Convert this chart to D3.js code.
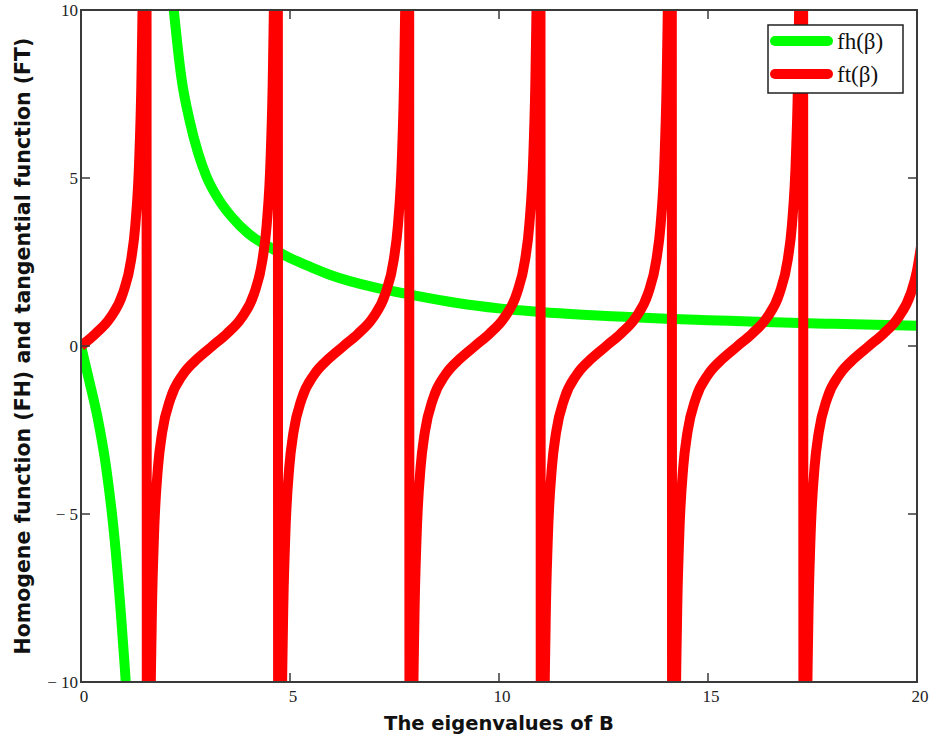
<!DOCTYPE html>
<html lang="en">
<head>
  <meta charset="UTF-8">
  <title>fh and ft</title>
  <style>
    * { box-sizing: border-box; }
    body { margin: 0; background: #fff; }
    svg { display: block; }
    .tick-label { font-family: "Liberation Serif", "DejaVu Serif", serif; font-size: 17px; fill: #222; }
    .axis-title { font-family: "DejaVu Sans", Verdana, sans-serif; font-weight: bold; fill: #111; }
    .legend-text { font-family: "Liberation Serif", serif; font-size: 23px; fill: #111; }
  </style>
</head>
<body>
<svg id="chart" width="933" height="744"></svg>

<script src="https://d3js.org/d3.v7.min.js"></script>
<script>
// homogene function fh(beta), two branches
var fhNegBeta  = [0, 0.2, 0.4, 0.6, 0.8, 0.95, 1.05, 1.12];
var fhNegValue = [0, -1.05, -2.15, -3.6, -5.7, -7.9, -9.6, -11];
var fhPosBeta  = [2.15, 2.22, 2.4, 2.6, 2.8, 3.0, 3.3, 3.6, 4.0, 4.5, 5, 5.5, 6, 7, 8, 9, 10, 11, 12, 13, 14, 15, 16, 17, 18, 19, 20];
var fhPosValue = [10.9, 10, 8.0, 6.7, 5.75, 5.05, 4.35, 3.85, 3.35, 2.95, 2.62, 2.35, 2.1, 1.75, 1.5, 1.28, 1.12, 1.01, 0.93, 0.87, 0.81, 0.77, 0.73, 0.69, 0.66, 0.63, 0.6];

// tangential function ft(beta), read branch by branch
var ftBeta0 = [0, 0.35, 0.7, 1.0, 1.2, 1.3, 1.4, 1.45, 1.5, 1.55];
var ftValue0 = [0, 0.37, 0.84, 1.56, 2.57, 3.6, 5.8, 8.24, 14.1, 48.1];
var ftBeta1 = [1.592, 1.642, 1.692, 1.742, 1.842, 1.942, 2.142, 2.442, 2.792, 3.142, 3.492, 3.842, 4.142, 4.342, 4.442, 4.542, 4.592, 4.642, 4.692];
var ftBeta2 = [4.733, 4.783, 4.833, 4.883, 4.983, 5.083, 5.283, 5.583, 5.933, 6.283, 6.633, 6.983, 7.283, 7.483, 7.583, 7.683, 7.733, 7.783, 7.833];
var ftBeta3 = [7.875, 7.925, 7.975, 8.025, 8.125, 8.225, 8.425, 8.725, 9.075, 9.425, 9.775, 10.125, 10.425, 10.625, 10.725, 10.825, 10.875, 10.925, 10.975];
var ftBeta4 = [11.016, 11.066, 11.116, 11.166, 11.266, 11.366, 11.566, 11.866, 12.216, 12.566, 12.916, 13.266, 13.566, 13.766, 13.866, 13.966, 14.016, 14.066, 14.116];
var ftBeta5 = [14.158, 14.208, 14.258, 14.308, 14.408, 14.508, 14.708, 15.008, 15.358, 15.708, 16.058, 16.408, 16.708, 16.908, 17.008, 17.108, 17.158, 17.208, 17.258];
var ftValueFull = [-48.1, -14.1, -8.24, -5.8, -3.6, -2.57, -1.56, -0.84, -0.37, 0, 0.37, 0.84, 1.56, 2.57, 3.6, 5.8, 8.24, 14.1, 48.1];
var ftBeta6 = [17.3, 17.35, 17.4, 17.45, 17.55, 17.65, 17.85, 18.15, 18.5, 18.85, 19.2, 19.55, 19.85, 20, 20.1];
var ftValue6 = [-48.1, -14.1, -8.24, -5.8, -3.6, -2.57, -1.56, -0.84, -0.37, 0, 0.37, 0.84, 1.56, 2.24, 3.0];

var xTicks = [0, 5, 10, 15, 20];
var yTicks = [-10, -5, 0, 5, 10];
var yTickLabels = ['\u2212 10', '\u2212 5', '0', '5', '10'];
var seriesNames = ['fh(\u03b2)', 'ft(\u03b2)'];

var plotLeft = 81, plotRight = 917, plotTop = 10, plotBottom = 682;
var svg = d3.select('#chart');

var x = d3.scaleLinear().domain([0, 20]).range([plotLeft, plotRight]);
var y = d3.scaleLinear().domain([-10, 10]).range([plotBottom, plotTop]);

function pairs(bs, vs) {
  return bs.map(function (b, i) { return [b, vs[i]]; });
}

var ftPoints = pairs(ftBeta0, ftValue0)
  .concat(pairs(ftBeta1, ftValueFull))
  .concat(pairs(ftBeta2, ftValueFull))
  .concat(pairs(ftBeta3, ftValueFull))
  .concat(pairs(ftBeta4, ftValueFull))
  .concat(pairs(ftBeta5, ftValueFull))
  .concat(pairs(ftBeta6, ftValue6));

svg.append('clipPath').attr('id', 'plot-clip')
  .append('rect')
  .attr('x', plotLeft).attr('y', plotTop)
  .attr('width', plotRight - plotLeft).attr('height', plotBottom - plotTop);

var line = d3.line()
  .x(function (d) { return x(d[0]); })
  .y(function (d) { return y(d[1]); })
  .curve(d3.curveMonotoneX);

var plot = svg.append('g').attr('clip-path', 'url(#plot-clip)');

plot.append('path').datum(pairs(fhNegBeta, fhNegValue))
  .attr('d', line).attr('fill', 'none')
  .attr('stroke', '#00ff00').attr('stroke-width', 10).attr('stroke-linejoin', 'round');
plot.append('path').datum(pairs(fhPosBeta, fhPosValue))
  .attr('d', line).attr('fill', 'none')
  .attr('stroke', '#00ff00').attr('stroke-width', 10).attr('stroke-linejoin', 'round');
plot.append('path').datum(ftPoints)
  .attr('d', line).attr('fill', 'none')
  .attr('stroke', '#ff0000').attr('stroke-width', 10).attr('stroke-linejoin', 'round');

// frame with inward ticks on all sides
var axisColor = '#3a3a3a';
svg.append('rect')
  .attr('x', plotLeft).attr('y', plotTop)
  .attr('width', plotRight - plotLeft).attr('height', plotBottom - plotTop)
  .attr('fill', 'none').attr('stroke', axisColor).attr('stroke-width', 2);

var ax = svg.append('g').attr('stroke', axisColor).attr('stroke-width', 1.5);
xTicks.slice(1, -1).forEach(function (t) {
  ax.append('line').attr('x1', x(t)).attr('x2', x(t)).attr('y1', plotBottom).attr('y2', plotBottom - 9);
  ax.append('line').attr('x1', x(t)).attr('x2', x(t)).attr('y1', plotTop).attr('y2', plotTop + 9);
});
yTicks.slice(1, -1).forEach(function (t) {
  ax.append('line').attr('y1', y(t)).attr('y2', y(t)).attr('x1', plotLeft).attr('x2', plotLeft + 9);
  ax.append('line').attr('y1', y(t)).attr('y2', y(t)).attr('x1', plotRight).attr('x2', plotRight - 9);
});

svg.selectAll('.xlab').data(xTicks).enter().append('text')
  .attr('class', 'tick-label')
  .attr('x', function (d) { return x(d) + 3; })
  .attr('y', plotBottom + 20)
  .attr('text-anchor', 'middle')
  .text(function (d) { return d; });

svg.selectAll('.ylab').data(yTicks).enter().append('text')
  .attr('class', 'tick-label')
  .attr('x', plotLeft - 3)
  .attr('y', function (d) { return y(d) + 6; })
  .attr('text-anchor', 'end')
  .text(function (d, i) { return yTickLabels[i]; });

svg.append('text').attr('class', 'axis-title')
  .attr('x', 499).attr('y', 730)
  .attr('text-anchor', 'middle')
  .style('font-size', '19.5px')
  .text('The eigenvalues of B');

svg.append('text').attr('class', 'axis-title')
  .attr('transform', 'translate(30,' + ((plotTop + plotBottom) / 2) + ') rotate(-90)')
  .attr('text-anchor', 'middle')
  .style('font-size', '20.5px')
  .text('Homogene function (FH) and tangential function (FT)');

// legend
var legend = svg.append('g');
legend.append('rect')
  .attr('x', 768).attr('y', 25).attr('width', 135).attr('height', 68)
  .attr('fill', '#fff').attr('stroke', '#222').attr('stroke-width', 1.5);
var legendColors = ['#00ff00', '#ff0000'];
seriesNames.forEach(function (name, i) {
  var ly = 41 + i * 33;
  legend.append('line')
    .attr('x1', 775).attr('x2', 828).attr('y1', ly).attr('y2', ly)
    .attr('stroke', legendColors[i]).attr('stroke-width', 10).attr('stroke-linecap', 'round');
  legend.append('text').attr('class', 'legend-text')
    .attr('x', 837).attr('y', ly + 8)
    .text(name);
});
</script>
</body>
</html>
